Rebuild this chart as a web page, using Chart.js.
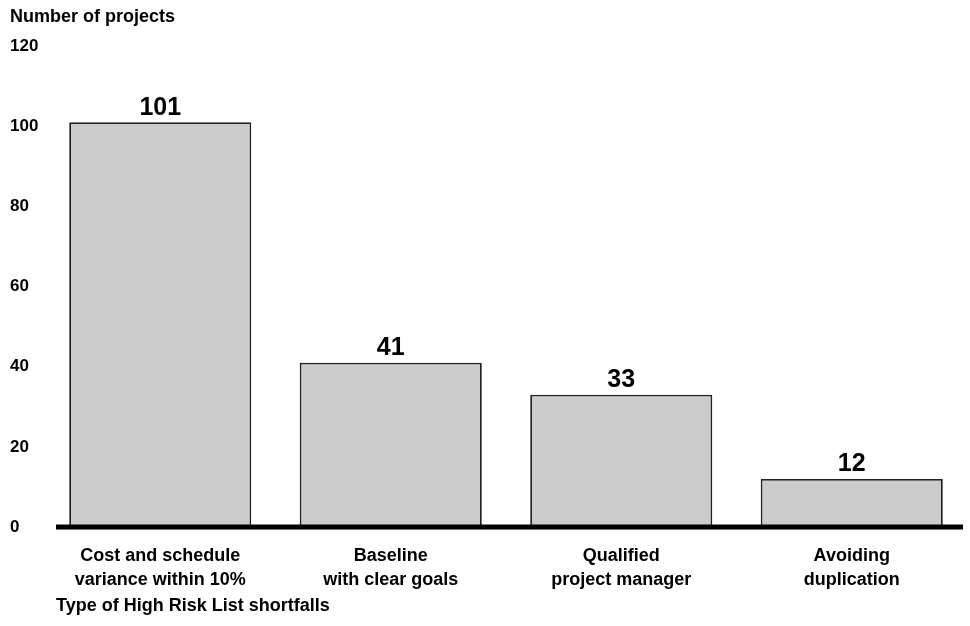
<!DOCTYPE html>
<html>
<head>
<meta charset="utf-8">
<style>
  html, body { margin: 0; padding: 0; background: #fff; }
  #wrap { width: 970px; height: 626px; position: relative; }
</style>
<script src="https://cdn.jsdelivr.net/npm/chart.js@4/dist/chart.umd.min.js"></script>
</head>
<body>
<div id="wrap"><canvas id="chart"></canvas></div>
<script>
const categories = [
  ['Cost and schedule', 'variance within 10%'],
  ['Baseline', 'with clear goals'],
  ['Qualified', 'project manager'],
  ['Avoiding', 'duplication']
];
const projectCounts = [101, 41, 33, 12];
const yTicks = [0, 20, 40, 60, 80, 100, 120];

const yTitle = 'Number of projects';
const xTitle = 'Type of High Risk List shortfalls';

const FONT = '"Liberation Sans", Arial, Helvetica, sans-serif';

// value labels above the bars, baseline and axis title
const extras = {
  id: 'extras',
  afterDatasetsDraw(chart) {
    const ctx = chart.ctx;
    const area = chart.chartArea;
    const y0 = chart.scales.y.getPixelForValue(0);
    ctx.save();

    ctx.fillStyle = '#000';
    ctx.fillRect(area.left + 11, y0 - 2.5, area.right - area.left - 15, 5);

    ctx.font = 'bold 25px ' + FONT;
    ctx.textAlign = 'center';
    ctx.textBaseline = 'bottom';
    const meta = chart.getDatasetMeta(0);
    meta.data.forEach((bar, i) => {
      ctx.fillText(String(projectCounts[i]), bar.x, bar.y - 2);
    });

    ctx.font = 'bold 18px ' + FONT;
    ctx.textAlign = 'left';
    ctx.textBaseline = 'middle';
    ctx.fillText(xTitle, area.left + 11, 606);
    ctx.restore();
  }
};

new Chart(document.getElementById('chart'), {
  type: 'bar',
  data: {
    labels: categories,
    datasets: [{
      data: projectCounts,
      backgroundColor: '#cccccc',
      borderColor: '#222222',
      borderWidth: 1.8,
      categoryPercentage: 1,
      barPercentage: 0.79
    }]
  },
  options: {
    responsive: true,
    maintainAspectRatio: false,
    animation: false,
    layout: {
      padding: { left: 10, right: 3, top: 0, bottom: 17 }
    },
    plugins: {
      legend: { display: false },
      tooltip: { enabled: false },
      title: {
        display: true,
        text: yTitle,
        align: 'start',
        color: '#000',
        font: { family: FONT, size: 18, weight: 'bold', lineHeight: 1.2 },
        padding: { top: 6, bottom: 18.4 }
      }
    },
    scales: {
      x: {
        grid: { display: false, drawTicks: false },
        border: { display: false },
        ticks: {
          color: '#000',
          padding: 17,
          maxRotation: 0,
          autoSkip: false,
          font: { family: FONT, size: 18, weight: 'bold', lineHeight: 1.333 }
        }
      },
      y: {
        min: 0,
        max: 120,
        afterBuildTicks(scale) {
          scale.ticks = yTicks.map(v => ({ value: v }));
        },
        afterFit(scale) {
          scale.width = 35;
        },
        grid: { display: false, drawTicks: false },
        border: { display: false },
        ticks: {
          color: '#000',
          crossAlign: 'far',
          font: { family: FONT, size: 17, weight: 'bold' }
        }
      }
    }
  },
  plugins: [extras]
});
</script>
</body>
</html>
